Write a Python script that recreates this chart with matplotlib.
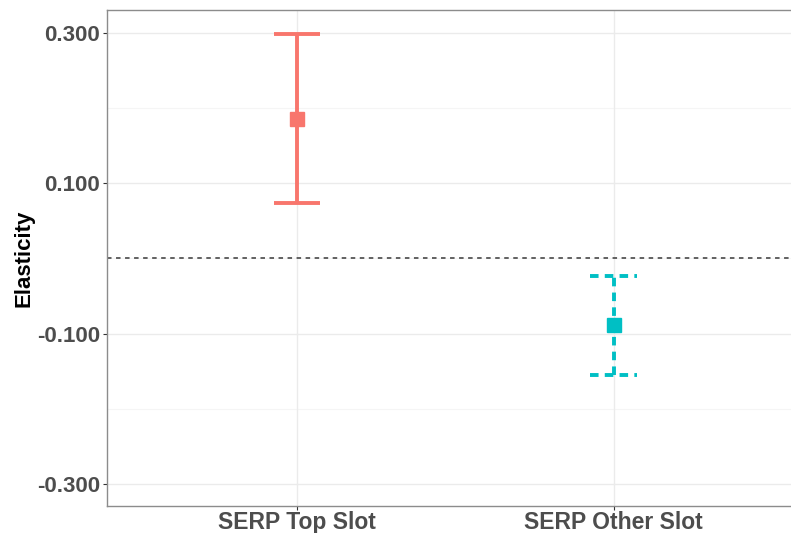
import numpy as np
import matplotlib.pyplot as plt

plt.rcParams['font.family'] = ['Liberation Sans', 'DejaVu Sans']

categories = ['SERP Top Slot', 'SERP Other Slot']
estimates = [0.185, -0.088]
ci_low = [0.073, -0.155]
ci_high = [0.298, -0.023]
colors = ['#F8766D', '#00BFC4']
styles = ['solid', (0, (2.2, 1.6))]
yticks = [-0.3, -0.1, 0.1, 0.3]
yminor = [-0.2, 0.0, 0.2]

fig = plt.figure(figsize=(7.91, 5.33), dpi=100)
ax = fig.add_axes([107 / 791, 27 / 533, 684 / 791, 496 / 533])

x = np.arange(1, len(categories) + 1)

for v in yticks:
    ax.axhline(v, color='#EBEBEB', lw=1.0, zorder=0)
for v in yminor:
    ax.axhline(v, color='#F5F5F5', lw=0.8, zorder=0)
for xi in x:
    ax.axvline(xi, color='#EBEBEB', lw=1.0, zorder=0)

ax.axhline(0, color='#555555', lw=1.3, ls=(0, (2.5, 2.5)), zorder=1)

for i in range(len(categories)):
    lo, hi = ci_low[i], ci_high[i]
    ax.vlines(x[i], lo, hi, color=colors[i], lw=2.8, linestyles=styles[i], zorder=2)
    ax.hlines([lo, hi], x[i] - 0.074, x[i] + 0.074, color=colors[i], lw=2.8,
              linestyles=styles[i], zorder=2)
    ax.plot(x[i], estimates[i], marker='s', ms=10, color=colors[i], zorder=3, ls='none')

ax.set_xlim(0.4, 2.56)
ax.set_ylim(-0.329, 0.330)
ax.set_xticks(x)
ax.set_xticklabels(categories)
ax.set_yticks(yticks)
ax.set_yticklabels(['%.3f' % v for v in yticks])

for lab in ax.get_xticklabels():
    lab.set_fontsize(16.5)
for lab in ax.get_yticklabels():
    lab.set_fontsize(16)
for lab in ax.get_xticklabels() + ax.get_yticklabels():
    lab.set_fontweight('bold')
    lab.set_color('#4D4D4D')
ax.tick_params(axis='both', color='#333333', length=3, width=0.8)
ax.tick_params(axis='y', pad=2)
ax.tick_params(axis='x', pad=0.5)

ax.set_ylabel('Elasticity', fontsize=16, fontweight='bold', color='black', labelpad=2)

for s in ['top', 'left', 'bottom']:
    ax.spines[s].set_color('#8C8C8C')
    ax.spines[s].set_linewidth(1.0)
ax.spines['right'].set_visible(False)

fig.savefig('out.png', dpi=100)
